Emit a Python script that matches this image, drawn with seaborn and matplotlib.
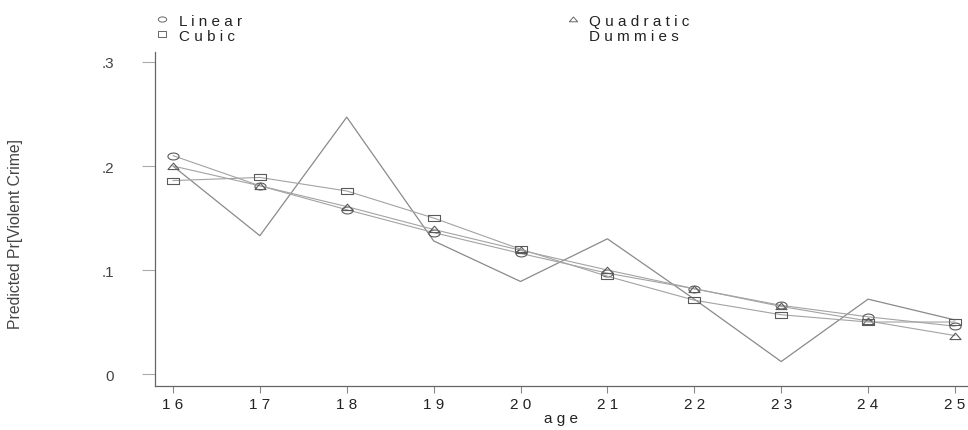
import numpy as np
import pandas as pd
import matplotlib
matplotlib.use("Agg")
import matplotlib.pyplot as plt
from matplotlib.path import Path
import seaborn as sns

# Predicted probability of a violent crime by age, under four age specifications
age = [16, 17, 18, 19, 20, 21, 22, 23, 24, 25]
linear = [0.210, 0.181, 0.158, 0.136, 0.116, 0.097, 0.082, 0.066, 0.055, 0.046]
quadratic = [0.200, 0.181, 0.161, 0.139, 0.119, 0.100, 0.082, 0.065, 0.051, 0.037]
cubic = [0.186, 0.189, 0.176, 0.150, 0.120, 0.094, 0.071, 0.057, 0.050, 0.050]
dummies = [0.200, 0.133, 0.247, 0.128, 0.089, 0.130, 0.072, 0.012, 0.072, 0.052]

y_ticks = [0, 0.1, 0.2, 0.3]
y_labels = ["0", ".1", ".2", ".3"]

sns.set_theme(style="white")
plt.rcParams["font.family"] = ["Liberation Sans", "DejaVu Sans"]


def spaced(s):
    return " ".join(s)


# flattened hollow markers
t = np.linspace(0, 2 * np.pi, 40)
ellipse = Path(np.column_stack([np.cos(t), 0.62 * np.sin(t)]), closed=True)
rect = Path([(-1, -0.62), (1, -0.62), (1, 0.62), (-1, 0.62), (-1, -0.62)], closed=True)
tri = Path([(-1, -0.55), (1, -0.55), (0, 0.6), (-1, -0.55)], closed=True)

df = pd.DataFrame({"age": age, "Linear": linear, "Quadratic": quadratic,
                   "Cubic": cubic, "Dummies": dummies})

fig = plt.figure(figsize=(9.68, 4.31), dpi=100)
ax = fig.add_axes([0.1601, 0.1021, 0.8399, 0.7749])

line_col = "#a3a3a3"
mk_col = "#5a5a5a"
mk_kw = dict(markersize=8, markerfacecolor="none", markeredgecolor=mk_col,
             markeredgewidth=0.8, linewidth=0.8, color=line_col)

sns.lineplot(data=df, x="age", y="Dummies", ax=ax, color="#8a8a8a", linewidth=0.9)
sns.lineplot(data=df, x="age", y="Linear", ax=ax, marker=ellipse, **mk_kw)
sns.lineplot(data=df, x="age", y="Quadratic", ax=ax, marker=tri, **mk_kw)
sns.lineplot(data=df, x="age", y="Cubic", ax=ax, marker=rect, **mk_kw)

ax.set_xlim(15.793, 25.15)
ax.set_ylim(-0.0115, 0.3096)

for side in ["top", "right"]:
    ax.spines[side].set_visible(False)
for side in ["left", "bottom"]:
    ax.spines[side].set_color("#666666")
    ax.spines[side].set_linewidth(0.9)

ax.set_xticks(age)
ax.set_xticklabels([spaced(str(a)) for a in age])
ax.set_yticks(y_ticks)
ax.set_yticklabels(y_labels)
ax.tick_params(axis="x", direction="out", length=5, width=0.8, color="#888888",
               labelsize=11, labelcolor="#222222", pad=3, bottom=True)
ax.tick_params(axis="y", direction="out", length=9.5, width=0.8, color="#aaaaaa",
               labelsize=11, labelcolor="#444444", pad=20, left=True)

ax.set_xlabel(spaced("age"), fontsize=11, color="#222222", labelpad=0)
ax.set_ylabel("")
fig.text(0.0155, 0.457, "Predicted Pr[Violent Crime]", rotation=90,
         ha="center", va="center", fontsize=11.3, color="#444444")

# key at the top of the figure
key = [("Linear", ellipse, 162, 20, 179, 22),
       ("Cubic", rect, 162, 35, 179, 37),
       ("Quadratic", tri, 573, 20, 589, 22),
       ("Dummies", None, 573, 35, 589, 37)]
W, H = 968, 431
for name, mk, mx, my, tx, ty in key:
    if mk is not None:
        fig.add_artist(plt.Line2D([mx / W], [1 - my / H], marker=mk, markersize=6,
                                  markerfacecolor="none", markeredgecolor="#666666",
                                  markeredgewidth=0.7, linestyle="none",
                                  transform=fig.transFigure))
    fig.text(tx / W, 1 - ty / H, spaced(name), ha="left", va="center",
             fontsize=11, color="#222222")

fig.savefig("out.png", dpi=100, facecolor="white")
